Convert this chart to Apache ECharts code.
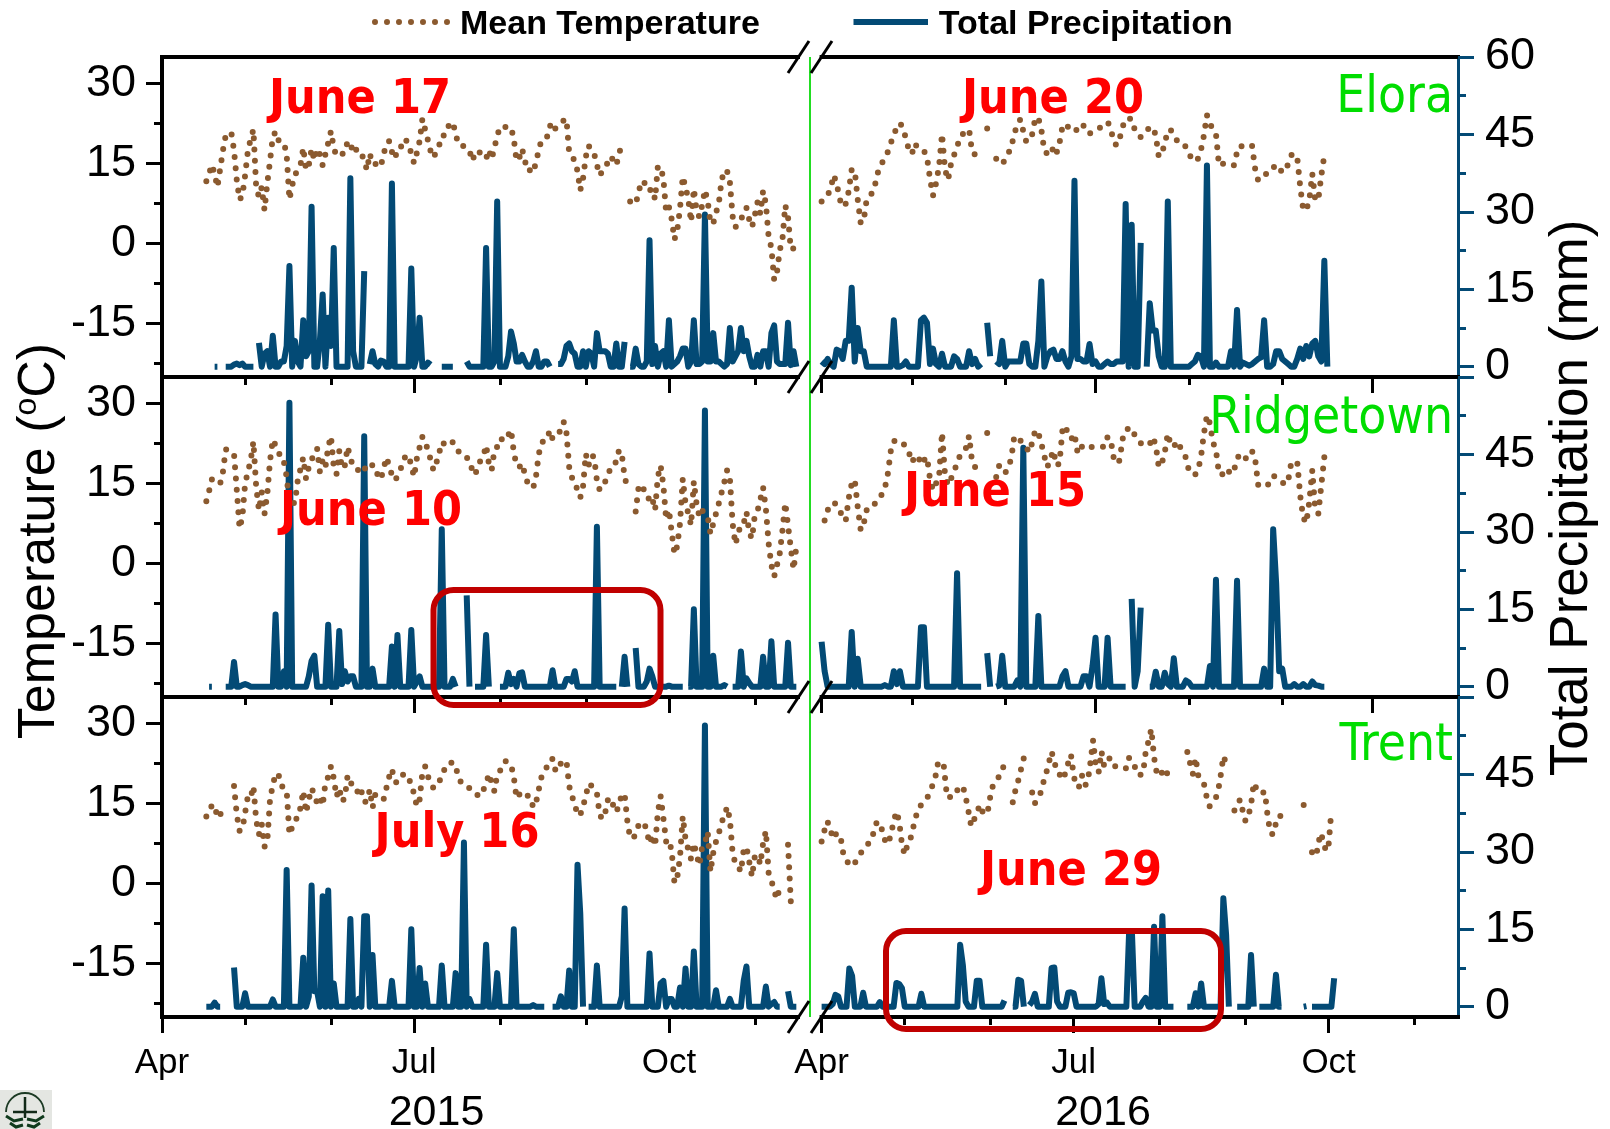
<!DOCTYPE html>
<html><head><meta charset="utf-8">
<style>html,body{margin:0;padding:0;background:#fff}#c{width:1610px;height:1129px}</style>
<script src="https://cdn.jsdelivr.net/npm/echarts@6/dist/echarts.min.js"></script>
</head><body><div id="c"></div>
<script>
// Day index 0 = 1 April of each year. Each array lists consecutive days from its start day.
const n = null;
const eloraTemp2015Start = 16;
const eloraTemp2015 = [11.7,13.1,14.8,13.1,10.6,14,17.5,20.3,20.6,20.9,17.5,11.9,8.2,9,12.8,17.4,19.6,21.4,10.6,8.8,10.6,6.3,11.3,15.5,20,21,19.4,19.1,19,16.7,8.3,10.9,12.9,13.8,14.7,18,13.8,14.7,17.8,15.6,17.8,16.7,14.7,16.8,18.9,21.1,18,16.4,16.6,16.8,17,19.2,19,16.9,17.6,17.8,16.9,15.6,13.8,16.9,14.9,14.9,15.1,14.5,16.7,18.8,19.2,17.2,15.9,17.5,17.6,19.6,19.4,18.9,16.8,15.1,17,19.2,23.4,21.4,19.4,17.3,16.1,17.2,18.3,20.3,20.3,21.8,22.4,22.8,20.6,18.6,18.4,18.3,17.8,17.5,15.5,16.9,17.5,16.9,16.6,15.9,17.6,15.8,18,20.1,21.9,21.8,21.9,22,21.8,19.7,15.5,16.1,17.8,15.6,13.6,13.8,13.3,15.3,17.5,19.5,19.7,20,22,22.8,21.6,22.2,22.5,23.1,23.4,17,16.3,15.6,13.6,10,12.2,16.3,18.4,17.4,16.9,14.8,12.8,13.6,14.4,15.3,16.4,15.5,14.7,16.8,18.7,n,n,7.9,7.6,7.4,9.5,11.6,11.7,10,10,10.3,8.3,14.5,14.4,12.2,5.9,6.9,4.6,0.8,2.4,6.6,12.6,10.6,8.3,4.1,10.3,6.1,5,7.2,10.1,8,3.8,3.8,5.8,7.5,11.8,13.8,13.6,11.6,5.1,3.1,3.8,4.2,6.3,6.7,4.5,3.1,5.3,7.8,5.6,9.9,7.5,1.3,-0.8,-6.8,-5.4,-1.3,0.9,7.2,5,-1.1,-0.9,-0.5];
const ridgetownTemp2015Start = 16;
const ridgetownTemp2015 = [11.7,13.6,15.8,15.3,14.9,15,17.2,21.4,21.3,20.8,20.6,13.8,6.6,8.7,15,17.2,19.3,22.9,14.4,10,13.4,9.3,13,19.3,23.3,22.2,21.3,19.3,19.1,16.3,11.3,11.3,11.4,15.6,17.8,19.9,15.9,18.1,19.5,20.6,21.6,17.2,19.4,18.1,21.9,23.9,18.1,16.8,21.1,17.8,18.4,21.9,19.9,18.1,17.8,17.5,16.9,17.5,18.8,18.8,18.4,18.3,16.3,15.8,17.8,19.9,18.4,16.6,15.6,16.3,17.5,19.1,20.3,20.3,18.4,16.3,19.7,21.8,23.8,23.1,21.1,19.5,17.5,18.8,20.6,22.8,22.4,22,22.5,22.8,22,21.1,20.3,20,19.9,19.4,17.5,16.6,18.1,19.4,20.1,22.2,18.8,17.5,21.3,21.9,21.8,24.1,23.9,24.1,25.1,20.9,18.4,18.1,18.8,16.8,15.1,14.7,14.2,16.3,20.5,22.5,23.3,23.4,25,23.4,23.6,24.4,25,26.6,24.6,18.1,16.1,15.6,13.6,12.4,14.5,20.6,18.4,20.3,20,15.6,13.8,14.7,15.4,16.3,18.3,18.5,19.1,21.3,20.5,16.3,14.3,n,n,9.8,14.1,14.9,13.8,13.6,11.6,12.2,10,16.3,18.4,14.7,8.3,10.1,5.9,1.8,3.3,7.5,15.9,11.3,9.4,7.2,15.4,11.1,8.8,10,9.4,8.8,5.6,7.5,9.4,11.3,13.3,15.3,17.5,16.1,7.5,3.6,5.6,7.5,7.6,9.7,5.8,4.7,9.1,9.9,12,14.3,10.3,3.8,-0.3,-2.4,-0.3,1.9,6.3,11.4,7.2,2.9,-1.1,3.1];
const trentTemp2015Start = 16;
const trentTemp2015 = [12.6,13.9,14.6,14.8,12.3,12.9,14.1,n,n,n,18.3,12.9,9.9,10.1,13.3,16.4,16.1,18.3,11.9,9.2,11.2,6.9,7.9,15.8,18.5,20.6,20.6,18.5,17.8,17.5,9.2,10.6,12,12.3,14.3,17.4,13.3,15.8,17.9,16.7,15.1,16.1,14.6,18.9,20,22,19.8,16.3,17.9,15.4,16.1,20.3,18.9,18.6,18.4,16.4,17.3,15.3,15.4,17.6,14.2,16.7,16.4,15.8,15.8,17.9,20,21.5,19.2,18.9,19.8,20.4,20.6,19.5,18.9,16.7,14.5,15.8,20.8,22,20.1,18.9,17.9,18.4,18.8,20.6,21.4,22.5,22.6,22.8,21.7,20.4,18.8,18.6,18.4,17.9,17.1,16.8,16.6,16.4,17.6,18.6,20.6,18.9,17.3,20.4,21.1,22.3,23,22.6,22.3,20,16,16.7,17.3,17,16.5,16.3,14.3,15.1,17.6,20,20.8,22,23.3,23.4,21.3,21.1,22.6,22.9,23.1,18.3,16.4,15,12.8,12.9,14.5,16.4,18.8,18.4,17.8,17,12.9,12.1,13.3,15.8,16.1,14.5,13.4,14.8,16.8,16.8,11.7,8.6,8.5,9.2,10.9,11.4,11.5,9.9,7.5,9.2,7,13.4,16.4,12.3,7.9,8.3,6.1,0.1,1.1,5,12.6,8.3,6.4,4.6,7.6,5.4,3.4,7,7.6,9.8,2.2,5.75,7.9,9.4,11.5,12.6,14.4,12.1,5.75,3.75,3.25,2.2,6.4,6.9,4.1,1.3,5.1,5.4,3.6,7.6,9.9,2,0.6,-1.4,-2.9,-0.7,n,n,7.3,-3.3,-2.4,-2.1];
const eloraTemp2016Start = 0;
const eloraTemp2016 = [7.9,8.4,9.1,10.3,12.9,11.3,8.4,6.9,7.5,9.8,13.9,13.8,8.3,3.8,4.4,8.4,9,9.6,11.6,14.1,15,16.3,17.2,18.9,20.3,22,22.6,21.8,19.7,17.6,16.8,18.8,17.8,17.6,17.4,16.3,12.2,9,11.3,14.4,20.6,13.9,11.9,15,16.6,18.1,20,20.6,21.1,21.4,17.1,16.7,16.3,n,n,21.6,21.5,n,15.9,15.1,14.9,15.8,16.9,18.1,20.6,22.3,23.3,21.1,19.1,19.4,20.6,23.6,23.6,21.4,17.3,16.9,16.5,18.1,16.9,18.8,21.9,22.5,21.8,22,22,20.9,21.6,22.1,20.9,20.6,21.1,21.4,21.6,21.9,22.3,22.8,21.8,19.1,18.4,19.7,21.9,23.4,23.4,23.4,21.4,20.3,20,20.6,21.4,21.6,21.9,20.3,16.3,16.9,18.8,21.3,21.3,20.1,19.4,19.2,19.1,18.1,17.2,15.6,15.5,15.9,17.5,20.3,24.1,22.5,21.4,20.6,14.7,15,14.9,14.6,14.6,14.7,17.2,18.4,18.1,17.9,18.1,18.3,14.1,11.9,12.1,12.5,13.4,14.2,14.4,14.25,13.25,13.9,13.6,15,16.6,16.9,16.1,10.6,6.3,6.3,8.1,13.1,8.1,8.25,12.8,16.6];
const ridgetownTemp2016Start = 1;
const ridgetownTemp2016 = [8.1,10,11.25,11.4,11.1,10,8.75,8,12.25,15,15.75,10.6,6.25,7.5,10.1,10.3,10.5,11.6,12.6,12.9,14.1,16.9,21.2,23,23.1,23,22.8,21.6,20.9,19,20.1,20.3,18.6,19.4,20,15.9,13.75,15,16.1,24.6,16.6,14.7,15.9,17.5,18.6,20.4,21.25,21.7,24,19,18.1,17.8,17.6,n,24.5,24.4,n,16.25,18.4,17.6,17,18.1,19.7,23.9,23.75,23.1,22.6,21.75,20.9,22.8,25.1,24.5,22.5,20.1,18.1,19.7,21.25,18.4,18.75,25,25.9,23.8,23.4,24.4,20.9,22.2,21.6,21.4,21.75,21.9,21.9,21.9,21.9,21.9,23.75,23.4,19.9,18.75,19.4,23.4,25.1,25.3,25.5,24.1,23.1,22.6,22.2,22.1,22.4,23.75,22.25,18.1,18.75,20.9,24.4,22.2,21.9,23,22,20.9,19.9,17.5,16.9,16.6,17.5,19.9,24.4,27.8,26.25,22.8,21.25,16.9,16.6,17.8,17.5,16.75,17.5,19.7,20.5,20.6,19.7,19.9,21.1,19.7,14.8,14.6,14.5,14.5,15.6,16.5,16.25,15.9,15.3,14.8,15.6,18.9,19,19.1,12.7,8.6,7.6,11.6,17.5,10,9.4,14.7,20,21.2];
const trentTemp2016Start = 0;
const trentTemp2016 = [7.9,9.9,11.7,10.75,8.4,9.2,9.5,8.25,5.1,4.25,3.75,3.25,3.9,4.7,5.6,6.4,7,7.6,8.1,10.1,11.7,10.75,10,7.9,7.4,9.2,11.6,13.5,11.7,7.4,5.4,7.3,8.25,10.4,12.5,14.2,14.8,15.25,16,17,18.4,19.8,22.6,22.9,22.6,17.6,16,16.7,17.6,17.5,17.5,18.25,16.25,13.6,10.75,12,12.9,14.8,13.6,12.9,13.6,16.7,18.75,19.5,20,21.4,22.2,n,n,15.25,17.6,19.4,21.5,23.6,n,n,17.1,15.1,16,17,18.9,20.6,22.6,24.75,22.9,20.9,20.4,19.5,20.75,22.6,24.2,20.2,18.1,18.25,20.25,18.4,18.9,22.6,26.9,22,20.9,24.8,22,22.5,23.6,22.3,22,22.1,22.1,21.9,21.6,23.6,22.6,22,20.4,20.4,20.6,24.8,26.7,29,23.7,20.6,20.1,21,20,21,21.7,22.3,n,n,n,n,24.7,22.6,20.6,23.6,20.1,19.5,18.75,16.2,14.5,15.1,15.75,17,20.1,23.9,22.6,21.7,n,13.7,14.5,15.75,13.7,11.7,12.6,14.8,18.9,17.75,16.9,17,17.2,12.6,9.5,9.2,11.4,11.5,13.6,n,n,n,n,n,n,n,14.75,14.7,n,5.9,5.1,6.4,9.5,8.25,6.1,7.25,13.7];

const eloraRain2015Start = 19;
const eloraRain2015 = [0,0,n,n,0,0,0,0.4,0.6,0.3,0.6,0,0,0,0,n,4.6,0,2.5,3,0,6,0,0,1,1,4,19.5,0,5,1,0,9,2,3,31,0,0,5,14,0,9.5,4,23,0,0,0,0,0,36.5,3,0,0,0,18.5,n,0.5,3,0.5,0,1.2,1,0,0,35.5,0,0,0,0,0,0,19,0,2,9.5,0,0,0.8,0.4,n,n,n,0,0,0,0,0,n,n,n,n,1,0,0,0,0,0,0,23,0,0,1,32,0,0,0,2,6.8,4.5,1,1,2.3,1,0,0,1,3,0,0,1,1,0,n,n,0.5,0.5,1.5,4,4.5,3,2.5,0,0,3,0,3,2.5,0,6.5,3,3,3,2.5,0,0,4.5,0,0,4.8,n,0,0,3.5,0.5,0,0,1,24.5,0.5,4,0,2.5,3,0,9,0,0.5,1,2,3.5,3.5,0,1,9,0.5,0.5,1,29.5,1,1,6.5,1,1,0.5,0,0.5,7.5,1,2,3,7.5,3,5,2,0,0,2.3,0,3,3,0,6.5,8,1,0.5,0.5,0.5,8.5,0.3,3,0];
const ridgetownRain2015Start = 17;
const ridgetownRain2015 = [0,0,n,n,n,n,0,0,0,4.8,0,0,0.3,0.5,0.3,0,0,0,0,0,0,0,0,0,14,0,0,3,0,55,0,0,0,0,0,0,2,5,6,0,0,0,0,12,0,0,0,10.8,0.5,3,1,2,2,0,0,0,48.5,0,0,3.5,0,0,0,0,0,0,7.8,0,10,0,0,0,0,11,0,1,2,0,0,0,0,0,0,0,30.5,0,0,0,1.5,0,n,n,n,17.7,0,n,0,0,0,0,10,0,n,n,n,0,0,0,2.7,0.5,1.5,0,2.6,2.8,0,0,0,0,0,0,0,0,0,0,3.2,0,0,0,0,1.5,1.5,1,3,0,0,0,0,0,0,0,31,0,0,0,0,0,0,0,n,0,5.8,0,n,n,7.5,0,0,0,1,3.5,2,0,0,0,0,0,0.2,0,0,0,0,0,n,0,0,15,0,0,0,53.5,0,0,6,0,0,0,0.3,0,n,0,0,0,6.8,0,1.6,0.7,0,0,0,0,5.8,0,0,8.8,0,0,0,0,0,8.5,0,0,0];
const trentRain2015Start = 16;
const trentRain2015 = [0,0,0,0.8,0,0,n,n,n,n,7.6,0,0,0,2.6,0,0,0,0,0,0,0,0,0,1.4,0,0,0,0,26.5,0,0,0,0,0,9.5,0,2,23.5,3,3,0,21.4,0,22.5,0,4.5,0,0,0,0,0,17,0,0,1.5,0,17.5,17.5,0,10,0,0,0,0,0,0,5,0,0,0,0,0,0,15,0,0,7.5,0,4.5,0,0,0,0,0,8,0,0,0,0,6.5,0,0,31.8,0,1.5,0,0,0,0,0,12,0,0,0,6.5,0,0,0,0,0,15,0,0,0,0,0,0,0.3,0,0,0,0,n,n,0,0,0,2,0,0,7,0,0,27.5,18,0,n,0,0,0,8,0,0,0,0,0,0,0,0,2,19,0,0,0,0,0,0,0,0,10.3,0,0,0,4.5,5,0,1.5,1.5,0,0,3.7,0,7.4,0,0,10.7,0,0,0,54.5,0,0,0,3.2,0,0,0,0,1.5,0,0,0,0,5,7.8,0,0,0,0,0,0,3.9,0,0.5,0.9,0,0,n,n,3,0,0,0];
const eloraRain2016Start = 0;
const eloraRain2016 = [1,0.5,1.5,0.5,0,3.3,3,1.5,5,5,15.3,1,7.5,3,3,0,0,0,0,0,0,0,0,0,9,0,0,0.3,1,0,0,0,0,9,9.5,8.5,0.5,3.5,0.5,0,2.5,0,0,0,2,1.5,0,0,0,3,0.5,1.5,0,0.5,n,8.5,2,n,1,0.5,5,0,1,1,1,1,1,4.5,4.5,0.5,0,0,5,16.5,0,2,3,3.3,1.5,1.5,3,1,0,2,36,1.5,1.5,1,1,4.4,0.5,1,0,0,0.5,1,0.5,0.5,1,1,1,31.5,0,27.5,0,0,24,n,0,12.3,7,7,2,0,0,32,0,0,0,0,0,0,0,0.5,1,2.3,2,0,39,0,0,0.8,0,0,0,0,3,0,11,0,0.8,0.5,0.2,0.5,1,1.5,1.8,9,0,0,0.5,3,3,1.5,1,0.5,0,0,1.5,3.5,1.5,4,2,4.5,5,2,1,20.5,0];
const ridgetownRain2016Start = 0;
const ridgetownRain2016 = [8.7,3,0,0,0,0,0,0,0,0,10.6,0,5.4,0,0,0,0,0,0,0,0,0.3,0,0,3,0.5,3,0,0,0,0,0,0,11.5,11.5,0,0,0,0,0,0,0,0,0,0,22,0,0,0,0,0,0,0,0,n,6.5,0,n,0,0.2,6,0,0,0,0,1.2,0,46.3,0,0,0,0,13.7,0,0,0,0,0,0,0,2,3,0,0,0,0,0,2,2,0,4,9.5,0,0,0,9.5,0,0,0,0,0,0,n,17,0,3,15.3,n,n,0,0,2.9,0,0,2.7,0.5,0,5.5,0,0,0,1.2,0.8,0,0,0,0,0,0,4,0,20.7,0,0,0,0,0,0,20.5,0,0,0,0,0,0,0,0,3.5,0,0,30.5,20,3,3.5,0,0,0,0.5,0,0,0.5,0,0,1,0.3,0.2,0,0];
const trentRain2016Start = 0;
const trentRain2016 = [0,0,0,0,0.5,2.3,2,0,0,0,7.4,6,0,0,0,2.7,0,0,0,0,0,0.9,0,0,0,0,0,4.6,4.4,3.6,0,0,0,0,0,0,2.5,0,0,0,0,0,0,0,0,0,0,0,0,0,12,8,1,0,0,0,5,5,0,0,0,0,0,0,0,0,1.2,n,n,0,0,5.2,5,0,n,0.3,1,2.5,0,0,0,0,0,7.5,7.6,1,0,0,0,2.7,2.8,2.6,0,0,0,0,0,0,0,0,0.5,5.5,0.5,0.8,0,0,0,0,0,0,0,14.6,14.6,0,0,0,1,1.7,0,0,15.5,0,0,17.5,0,0,0,0,n,n,n,n,0,0,0,2.6,0,4.5,0,0,0,0,0,0,0,21,14,0,n,n,0,0,0,0,0,10,0,n,0,0,0,0,0,0,6.2,0,0,n,n,n,n,n,n,n,0,0.1,n,0,0,0,0,0,0,0,0,5.5];

const tempMajor = [-15,0,15,30];
const tempMinor = [-22.5,-7.5,7.5,22.5];
const rainMajorTop = [0,15,30,45,60];
const rainMajor = [0,15,30,45];
const rainTicks = [0,15,30,45,60];
const rainMinor = [7.5,22.5,37.5,52.5];
const monthMajorDays = [0,91,183];
const monthMinorDays = [30,61,122,153,214];
const monthLabels = {0:'Apr',91:'Jul',183:'Oct'};
const yearLabels = ['2015','2016'];
const stationNames = ['Elora','Ridgetown','Trent'];
const onsetNotes = [['June 17','June 20'],['June 10','June 15'],['July 16','June 29']];

const BLUE='#034a75', BROWN='#8b5a2f', RED='#ff0000', GREEN='#00dd00', DARK='#c00000';
const SANS='"Liberation Sans"', HUM='"DejaVu Sans Condensed","DejaVu Sans"';
const rowTop=[57,377,697], rowH=320;
const panels=[
 {left:162,width:636,max:[229.6,229.6,229.6]},
 {left:821.6,width:636.4,max:[211.4,211.4,229.7]}
];
const temps=[[eloraTemp2015,eloraTemp2015Start,eloraTemp2016,eloraTemp2016Start],
 [ridgetownTemp2015,ridgetownTemp2015Start,ridgetownTemp2016,ridgetownTemp2016Start],
 [trentTemp2015,trentTemp2015Start,trentTemp2016,trentTemp2016Start]];
const rains=[[eloraRain2015,eloraRain2015Start,eloraRain2016,eloraRain2016Start],
 [ridgetownRain2015,ridgetownRain2015Start,ridgetownRain2016,ridgetownRain2016Start],
 [trentRain2015,trentRain2015Start,trentRain2016,trentRain2016Start]];
const toPts=(a,s)=>a.map((v,i)=>[i+s,v]);

const grid=[],xAxis=[],yAxis=[],series=[];
const blackLine={show:true,onZero:false,lineStyle:{color:'#000',width:4,cap:'square'}};
const noLine={show:false,onZero:false};
for(let r=0;r<3;r++){for(let p=0;p<2;p++){
  const g=grid.length, P=panels[p], maxX=P.max[r];
  grid.push({left:P.left,width:P.width,top:rowTop[r],height:rowH,containLabel:false,outerBoundsMode:'none',show:false});
  const base={type:'value',gridIndex:g,min:0,max:maxX,splitLine:{show:false},position:'bottom'};
  const xMain=xAxis.length;
  xAxis.push({...base,axisLine:blackLine,
    axisTick:{show:true,length:16,customValues:monthMajorDays,lineStyle:{color:'#000',width:3}},
    axisLabel:{show:r===2,customValues:monthMajorDays,margin:29,fontFamily:SANS,fontSize:35,color:'#000',formatter:v=>monthLabels[v]}});
  xAxis.push({...base,axisLine:noLine,
    axisTick:{show:true,length:8,customValues:monthMinorDays,lineStyle:{color:'#000',width:3}},axisLabel:{show:false}});
  if(r===0) xAxis.push({...base,position:'top',axisLine:blackLine,axisTick:{show:false},axisLabel:{show:false}});
  const tBase={type:'value',gridIndex:g,min:-25,max:35,splitLine:{show:false},position:'left'};
  const rBase={type:'value',gridIndex:g,min:-2,max:60,splitLine:{show:false},position:'right'};
  const yTemp=yAxis.length;
  if(p===0){
    yAxis.push({...tBase,axisLine:blackLine,
      axisTick:{show:true,length:16,customValues:tempMajor,lineStyle:{color:'#000',width:3}},
      axisLabel:{customValues:tempMajor,margin:26,padding:[8,0,0,0],fontFamily:SANS,fontSize:45,color:'#000',formatter:v=>String(v)}});
    yAxis.push({...tBase,axisLine:noLine,axisTick:{show:true,length:8,customValues:tempMinor,lineStyle:{color:'#000',width:3}},axisLabel:{show:false}});
  } else {
    yAxis.push({...tBase,axisLine:noLine,axisTick:{show:false},axisLabel:{show:false}});
    const shown=r===0?rainMajorTop:rainMajor;
    yAxis.push({...rBase,axisLine:{show:true,onZero:false,lineStyle:{color:BLUE,width:3}},
      axisTick:{show:true,length:16,customValues:rainTicks,lineStyle:{color:BLUE,width:3}},
      axisLabel:{customValues:shown,margin:27,padding:[8,0,0,0],fontFamily:SANS,fontSize:45,color:'#000',formatter:v=>String(v)}});
    yAxis.push({...rBase,axisLine:noLine,axisTick:{show:true,length:8,customValues:rainMinor,lineStyle:{color:BLUE,width:3}},axisLabel:{show:false}});
  }
  const yRain = p===0 ? yAxis.push({...rBase,axisLine:noLine,axisTick:{show:false},axisLabel:{show:false}})-1 : yTemp+1;
  series.push({name:'Total Precipitation',type:'line',xAxisIndex:xMain,yAxisIndex:yRain,symbol:'none',showSymbol:false,silent:true,
    connectNulls:false,z:3,lineStyle:{color:BLUE,width:6,join:'round',cap:'butt'},itemStyle:{color:BLUE},
    data:toPts(rains[r][p*2],rains[r][p*2+1])});
  series.push({name:'Mean Temperature',type:'line',xAxisIndex:xMain,yAxisIndex:yTemp,symbol:'none',showSymbol:false,silent:true,
    connectNulls:false,z:4,lineStyle:{color:BROWN,width:6,type:[0,11.3],cap:'round',join:'round'},itemStyle:{color:BROWN},
    data:toPts(temps[r][p*2],temps[r][p*2+1])});
}}

const txt=(x,y,text,size,color,o={})=>({type:'text',x,y,z:100,silent:true,style:{text,fontSize:size,fill:color,fontFamily:o.family||HUM,fontWeight:o.weight||'normal',align:o.align||'center',verticalAlign:'middle'}});
const notePos=[[[360,101],[1053,101]],[[371,513],[995,494]],[[457,835],[1071,873]]];
const stationY=[99,420,747];
const graphics=[];
onsetNotes.forEach((row,r)=>row.forEach((s,p)=>graphics.push(txt(notePos[r][p][0],notePos[r][p][1],s,48,RED,{weight:'bold'}))));
stationNames.forEach((s,r)=>graphics.push(txt(1453,stationY[r],s,51,GREEN,{align:'right'})));
yearLabels.forEach((s,i)=>graphics.push(txt([436.5,1103][i],1113,s,43,'#000',{family:SANS})));
// red highlight boxes
[[433.5,590,227,115],[886,931,335,98]].forEach(b=>graphics.push({type:'rect',z:90,silent:true,shape:{x:b[0],y:b[1],width:b[2],height:b[3],r:20},style:{fill:'none',stroke:DARK,lineWidth:6}}));
// green divider
graphics.push({type:'line',z:80,silent:true,shape:{x1:810,y1:57,x2:810,y2:1017},style:{stroke:'#22dd22',lineWidth:2}});
// axis breaks
[57,377,697,1017].forEach(y=>{[[788,809],[811,832]].forEach(a=>graphics.push({type:'line',z:85,silent:true,shape:{x1:a[0],y1:y+16,x2:a[1],y2:y-16},style:{stroke:'#000',lineWidth:3}}));});
// legend keys
graphics.push({type:'line',z:100,silent:true,shape:{x1:375,y1:22,x2:449,y2:22},style:{stroke:BROWN,lineWidth:6,lineDash:[0,12],lineCap:'round'}});
graphics.push({type:'line',z:100,silent:true,shape:{x1:853.5,y1:22,x2:928,y2:22},style:{stroke:BLUE,lineWidth:6}});
// axis titles
graphics.push({type:'text',x:40,y:541,rotation:Math.PI/2,z:100,silent:true,style:{rich:{a:{fontFamily:SANS,fontSize:52,fill:'#000',lineHeight:58},b:{fontFamily:SANS,fontSize:32,fill:'#000',verticalAlign:'top',lineHeight:58,padding:[0,0,16,0]}},text:'{a|Temperature (}{b|o}{a|C)}',align:'center',verticalAlign:'middle'}});
graphics.push({type:'text',x:1572,y:498,rotation:Math.PI/2,z:100,silent:true,style:{text:'Total Precipitation (mm)',fontFamily:SANS,fontSize:53,fill:'#000',align:'center',verticalAlign:'middle'}});
// small logo
graphics.push({type:'group',z:100,silent:true,children:[
 {type:'rect',shape:{x:0,y:1090,width:52,height:39},style:{fill:'#e4e6e2'}},
 {type:'arc',shape:{cx:25,cy:1112,r:19,startAngle:Math.PI,endAngle:0,clockwise:true},style:{stroke:'#1c3a24',fill:'none',lineWidth:1.8}},
 {type:'line',shape:{x1:25,y1:1097,x2:25,y2:1118},style:{stroke:'#122a18',lineWidth:2.5}},
 {type:'line',shape:{x1:13,y1:1112,x2:37,y2:1112},style:{stroke:'#122a18',lineWidth:2.5}},
 {type:'polyline',shape:{points:[[6,1116],[14,1121],[23,1119]]},style:{stroke:'#0f3a1c',fill:'none',lineWidth:3}},
 {type:'polyline',shape:{points:[[27,1119],[36,1121],[44,1116]]},style:{stroke:'#0f3a1c',fill:'none',lineWidth:3}},
 {type:'polyline',shape:{points:[[10,1123],[16,1127],[23,1125]]},style:{stroke:'#0f3a1c',fill:'none',lineWidth:3}},
 {type:'polyline',shape:{points:[[27,1125],[34,1127],[40,1123]]},style:{stroke:'#0f3a1c',fill:'none',lineWidth:3}}
]});

const chart=echarts.init(document.getElementById('c'),null,{renderer:'canvas',width:1610,height:1129});
chart.setOption({
  animation:false,backgroundColor:'#fff',
  legend:{left:372,top:3,itemWidth:76,itemHeight:14,itemGap:96,icon:'rect',data:['Mean Temperature','Total Precipitation'],selectedMode:false,
    itemStyle:{color:'rgba(0,0,0,0)',borderWidth:0},
    textStyle:{fontFamily:SANS,fontWeight:'bold',fontSize:34,color:'#000',padding:[0,0,0,2]}},
  grid,xAxis,yAxis,series,graphic:graphics
});
</script></body></html>
